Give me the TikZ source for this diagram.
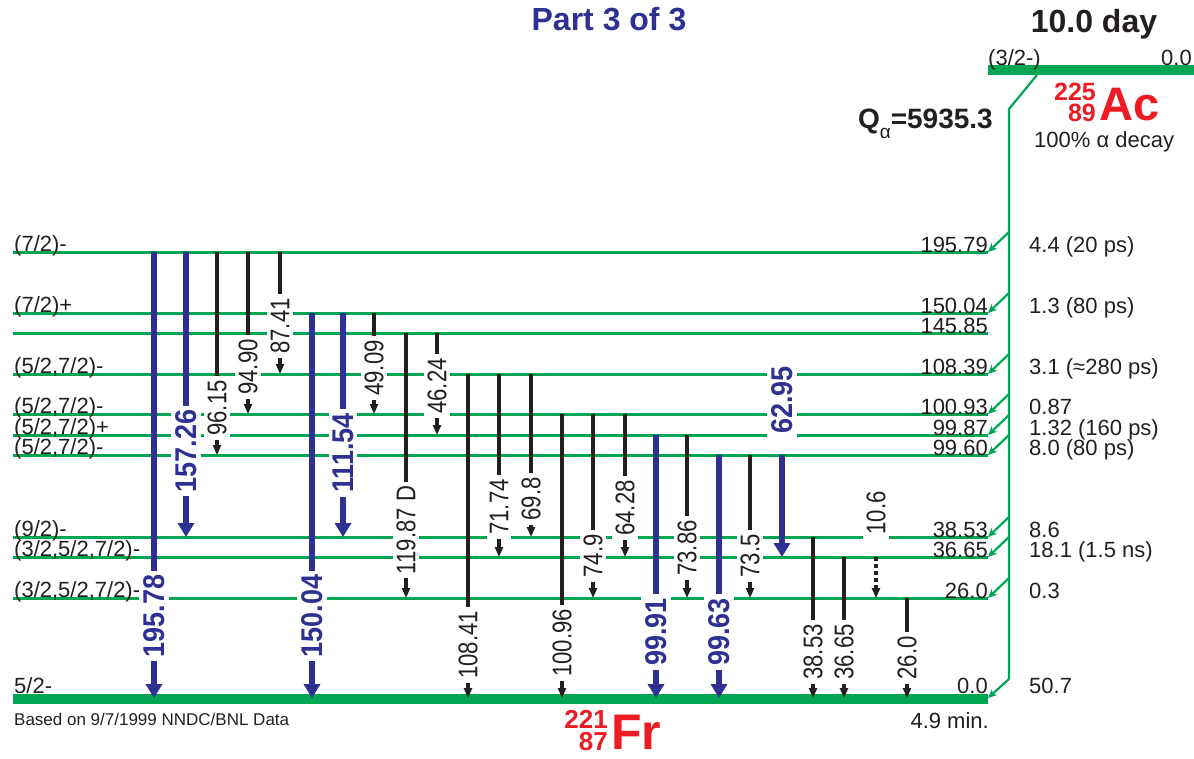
\documentclass[tikz,border=0pt]{standalone}
\usepackage{fontspec}
\setmainfont{Liberation Sans}
\usepackage{graphicx}
\usetikzlibrary{arrows.meta}
\definecolor{lvg}{RGB}{0,166,81}
\definecolor{tblue}{RGB}{46,49,146}
\definecolor{tred}{RGB}{237,28,36}
\definecolor{tink}{RGB}{35,31,32}
\newcommand\myfs[1]{\fontsize{#1}{#1}\selectfont}
\begin{document}
\begin{tikzpicture}[x=1pt,y=-1pt,
  lvl/.style={draw=lvg,line width=3pt},
  gnd/.style={draw=lvg,line width=10pt},
  feed/.style={draw=lvg,line width=2.2pt},
  feedarr/.style={feed,-{Stealth[length=9pt,width=8pt]}},
  tb/.style={draw=tink,line width=3.2pt,-{Triangle[length=10pt,width=8pt]}},
  tbd/.style={tb,dash pattern=on 4pt off 3pt},
  tbl/.style={draw=tblue,line width=6.5pt,-{Triangle[length=14pt,width=16pt]}},
  glab/.style={rotate=90,fill=white,inner xsep=4pt,inner ysep=3pt,text=tink,font=\myfs{27}},
  blab/.style={rotate=90,fill=white,inner xsep=4pt,inner ysep=4pt,text=tblue,font=\myfs{30}\bfseries},
  spin/.style={anchor=base west,text=tink,font=\myfs{22},inner sep=0pt},
  elab/.style={anchor=base east,text=tink,font=\myfs{22},inner sep=0pt},
  ilab/.style={anchor=base west,text=tink,font=\myfs{22},inner sep=0pt},
]
\useasboundingbox (0,0) rectangle (1194,758);

% levels
\foreach \n/\y in {L195/252, L150/313, L145/333, L108/374, L100/414, L99a/435, L99b/455, L38/537, L36/557, L26/598}{
  \coordinate (\n w) at (13,\y);
  \coordinate (\n e) at (988,\y);
  \draw[lvl] (\n w) -- (\n e);
}
\coordinate (Gw) at (13,699);
\coordinate (Ge) at (988,699);
\draw[gnd] (Gw) -- (Ge);
\coordinate (Pw) at (988,70);
\coordinate (Pe) at (1194,70);
\draw[gnd] (Pw) -- (Pe);

% alpha feeding
\coordinate (F0) at (1037,75);
\coordinate (F1) at (1009,109);
\coordinate (F2) at (1009,679);
\coordinate (Gtip) at (988,698);
\draw[feed] (F0) -- (F1) -- (F2);
\foreach \n/\y in {L195/252, L150/313, L108/374, L100/414, L99a/435, L99b/455, L38/537, L36/557, L26/598}{
  \coordinate (b\n) at (1009,{\y-20});
  \draw[feedarr] (b\n) -- (\n e);
}
\draw[feedarr] (F2) -- (Gtip);

% spin labels
\foreach \n/\y/\t in {s1/251/{(7/2)-}, s2/312/{(7/2)+}, s3/373/{(5/2,7/2)-}, s4/413/{(5/2,7/2)-}, s5/434/{(5/2,7/2)+}, s6/454/{(5/2,7/2)-}, s7/536/{(9/2)-}, s8/556/{(3/2,5/2,7/2)-}, s9/597/{(3/2,5/2,7/2)-}, s10/693/{5/2-}}{
  \node[spin] (\n) at (14,\y) {\t};
}
% energy labels
\foreach \n/\y/\t in {e1/252/195.79, e2/313/150.04, e3/333/145.85, e4/374/108.39, e5/414/100.93, e6/435/99.87, e7/455/99.60, e8/537/38.53, e9/557/36.65, e10/598/26.0, e11/693/0.0}{
  \node[elab] (\n) at (988,\y) {\t};
}
% intensity labels
\foreach \n/\y/\t in {i1/252/{4.4 (20 ps)}, i2/313/{1.3 (80 ps)}, i3/374/{3.1 (≈280 ps)}, i4/414/{0.87}, i5/435/{1.32 (160 ps)}, i6/455/{8.0 (80 ps)}, i7/537/{8.6}, i8/557/{18.1 (1.5 ns)}, i9/598/{0.3}, i10/693/{50.7}}{
  \node[ilab] (\n) at (1029,\y) {\t};
}

% black transitions
\foreach \n/\x/\ya/\yb/\t/\ly in {a/217/252/455/96.15/408, b/248/252/414/94.90/367, c/280/252/374/87.41/326, d/374/313/414/49.09/368, e/406/333/598/{119.87 D}/530, f/437/333/435/46.24/386, g/468/374/698/108.41/645, h/499/374/557/71.74/507, i/531/374/537/69.8/499, j/562/414/698/100.96/643, k/593/414/598/74.9/556, l/625/414/557/64.28/508, m/687/435/598/73.86/548, n/750/455/598/73.5/556, o/813/537/698/38.53/652, p/844/557/698/36.65/652, q/907/598/698/26.0/658}{
  \coordinate (ts\n) at (\x,\ya);
  \coordinate (te\n) at (\x,\yb);
  \draw[tb] (ts\n) -- (te\n);
  \node[glab] (tl\n) at (\x,\ly) {\scalebox{0.82}[1]{\t}};
}
% dashed transition
\coordinate (tsr) at (876,557);
\coordinate (ter) at (876,598);
\draw[tbd] (tsr) -- (ter);
\node[glab] (tlr) at (876,513) {\scalebox{0.82}[1]{10.6}};

% blue transitions
\foreach \n/\x/\ya/\yb/\t/\ly in {A/154/252/698/195.78/616, B/186/252/537/157.26/451, C/312/313/698/150.04/616, D/343/313/537/111.54/453, E/656/435/698/99.91/632, F/719/455/698/99.63/632, G/782/455/557/62.95/400}{
  \coordinate (bs\n) at (\x,\ya);
  \coordinate (be\n) at (\x,\yb);
  \draw[tbl] (bs\n) -- (be\n);
  \node[blab] (bl\n) at (\x,\ly) {\scalebox{0.9}[1]{\t}};
}

% titles and nuclide labels
\node[anchor=base,text=tblue,font=\myfs{32}\bfseries,inner sep=0pt] (title) at (609,30) {Part 3 of 3};
\node[anchor=base,text=tink,font=\myfs{32}\bfseries,inner sep=0pt] (half) at (1094,32) {10.0 day};
\node[anchor=base west,text=tink,font=\myfs{22},inner sep=0pt] (pspin) at (988,65) {(3/2-)};
\node[anchor=base east,text=tink,font=\myfs{22},inner sep=0pt] (pen) at (1192,65) {0.0};
\node[anchor=base east,text=tink,inner sep=0pt] (Q) at (993,128) {\myfs{28}\bfseries Q\raisebox{-10pt}{\mdseries\myfs{19}α}=5935.3};
\node[anchor=base west,text=tred,font=\myfs{47}\bfseries,inner sep=0pt] (Ac) at (1099,120) {Ac};
\node[anchor=base east,text=tred,font=\myfs{25}\bfseries,inner sep=0pt] (AcA) at (1096,100) {225};
\node[anchor=base east,text=tred,font=\myfs{25}\bfseries,inner sep=0pt] (AcZ) at (1096,121) {89};
\node[anchor=base west,text=tink,font=\myfs{22},inner sep=0pt] (decay) at (1034,147) {100\% α decay};
\node[anchor=base west,text=tred,font=\myfs{50}\bfseries,inner sep=0pt] (Fr) at (611,749) {Fr};
\node[anchor=base east,text=tred,font=\myfs{26}\bfseries,inner sep=0pt] (FrA) at (608,728) {221};
\node[anchor=base east,text=tred,font=\myfs{26}\bfseries,inner sep=0pt] (FrZ) at (608,750) {87};
\node[anchor=base west,text=tink,font=\myfs{17},inner sep=0pt] (based) at (14,725) {Based on 9/7/1999 NNDC/BNL Data};
\node[anchor=base east,text=tink,font=\myfs{22},inner sep=0pt] (gsh) at (989,728) {4.9 min.};
\end{tikzpicture}
\end{document}
